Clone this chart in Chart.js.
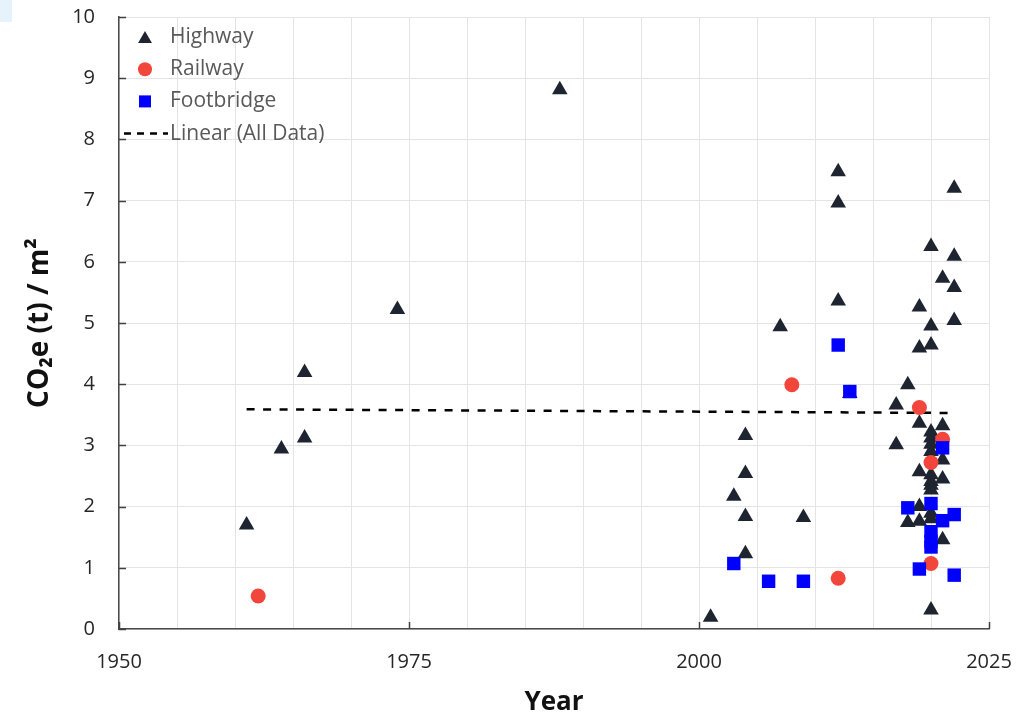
<!DOCTYPE html>
<html>
<head>
<meta charset="utf-8">
<script src="https://cdn.jsdelivr.net/npm/chart.js@4.4.1/dist/chart.umd.min.js"></script>
<style>
  html, body { margin: 0; padding: 0; background: #ffffff; }
  #wrap { position: relative; width: 1020px; height: 721px; }
  #corner { position: absolute; left: 0; top: 0; width: 12px; height: 22px; background: #e6f3fb; }
  canvas { position: absolute; left: 0; top: 0; }
</style>
</head>
<body>
<div id="wrap">
  <canvas id="c" width="1020" height="721"></canvas>
  <div id="corner"></div>
</div>
<script>
// Embodied carbon per deck area, by year of construction
const highwayYears  = [1961, 1964, 1966, 1966, 1974, 1988, 2001, 2003, 2004, 2004, 2004, 2004, 2007, 2009,
                       2012, 2012, 2012, 2013, 2017, 2017, 2018, 2018, 2019, 2019, 2019, 2019, 2019, 2019,
                       2020, 2020, 2020, 2020, 2020, 2020, 2020, 2020, 2020, 2020, 2020, 2020, 2020, 2020,
                       2021, 2021, 2021, 2021, 2021, 2022, 2022, 2022, 2022];
const highwayValues = [1.70, 2.94, 3.12, 4.19, 5.22, 8.81, 0.19, 2.17, 3.16, 2.54, 1.84, 1.23, 4.94, 1.82,
                       7.47, 6.96, 5.36, 3.85, 3.66, 3.01, 3.99, 1.74, 5.26, 4.59, 3.36, 2.57, 2.00, 1.76,
                       6.25, 4.95, 4.64, 3.22, 3.12, 3.02, 2.90, 2.52, 2.41, 2.35, 2.27, 1.89, 1.80, 0.31,
                       5.73, 3.32, 2.76, 2.45, 1.46, 7.20, 6.09, 5.58, 5.04];

const railwayYears  = [1962, 2008, 2012, 2019, 2020, 2020, 2021];
const railwayValues = [0.54, 3.99, 0.83, 3.62, 2.72, 1.07, 3.10];

const footbridgeYears  = [2003, 2006, 2009, 2012, 2013, 2018, 2019, 2020, 2020, 2020, 2020, 2021, 2021, 2022, 2022];
const footbridgeValues = [1.07, 0.78, 0.78, 4.64, 3.88, 1.98, 0.98, 2.05, 1.59, 1.43, 1.34, 2.96, 1.77, 1.87, 0.88];

// Linear trend over all data (end points)
const trendYears  = [1961, 2022];
const trendValues = [3.59, 3.53];

const xTickLabels = [1950, 1975, 2000, 2025];
const yTickLabels = [0, 1, 2, 3, 4, 5, 6, 7, 8, 9, 10];

const seriesNames = ['Highway', 'Railway', 'Footbridge', 'Linear (All Data)'];

const toPoints = (xs, ys) => xs.map((x, i) => ({ x: x, y: ys[i] }));

const FONT = "'Open Sans', 'Noto Sans', sans-serif";
const C_HIGHWAY = '#1e2430';
const C_RAIL = '#f2463d';
const C_FOOT = '#0000ff';

// Legend drawn inside the plot area, top-left
const insideLegend = {
  id: 'insideLegend',
  afterDraw(chart) {
    const ctx = chart.ctx;
    const rows = [
      { style: 'triangle', color: C_HIGHWAY, r: 8 },
      { style: 'circle', color: C_RAIL, r: 7 },
      { style: 'rect', color: C_FOOT, r: 8.5 },
      { style: 'dash' }
    ];
    const x0 = 145, textX = 170, y0 = 37, dy = 32.2;
    ctx.save();
    rows.forEach((row, i) => {
      const y = y0 + i * dy;
      if (row.style === 'dash') {
        ctx.strokeStyle = '#000';
        ctx.lineWidth = 2.5;
        ctx.setLineDash([7, 6]);
        ctx.beginPath();
        ctx.moveTo(124, y);
        ctx.lineTo(168, y);
        ctx.stroke();
        ctx.setLineDash([]);
      } else {
        ctx.fillStyle = row.color;
        ctx.strokeStyle = row.color;
        Chart.helpers.drawPoint(ctx, { pointStyle: row.style, radius: row.r, borderWidth: 0, rotation: 0 }, x0, y + (row.style === 'triangle' ? 2 : 0));
      }
      ctx.fillStyle = '#595959';
      ctx.font = '21px ' + FONT;
      ctx.textBaseline = 'middle';
      ctx.textAlign = 'left';
      ctx.fillText(seriesNames[i], textX, y);
    });
    ctx.restore();
  }
};

// Short inward tick marks at the labelled values
const innerTicks = {
  id: 'innerTicks',
  beforeDatasetsDraw(chart) {
    const ctx = chart.ctx;
    const xs = chart.scales.x, ys = chart.scales.y;
    const area = chart.chartArea;
    ctx.save();
    ctx.strokeStyle = '#404040';
    ctx.lineWidth = 1.5;
    ctx.beginPath();
    yTickLabels.forEach(v => {
      const py = Math.round(ys.getPixelForValue(v)) + 0.5;
      ctx.moveTo(area.left, py);
      ctx.lineTo(area.left + 7, py);
    });
    xTickLabels.forEach(v => {
      const px = Math.round(xs.getPixelForValue(v)) + 0.5;
      ctx.moveTo(px, area.bottom);
      ctx.lineTo(px, area.bottom - 7);
    });
    ctx.stroke();
    ctx.restore();
  }
};

// Fixed axis box sizes; label overhang is covered by the layout padding
function fixBox(size, key) {
  return function (s) {
    s[key] = size;
    s.paddingTop = 0; s.paddingBottom = 0; s.paddingLeft = 0; s.paddingRight = 0;
  };
}

new Chart(document.getElementById('c'), {
  type: 'scatter',
  data: {
    datasets: [
      {
        label: seriesNames[0],
        data: toPoints(highwayYears, highwayValues),
        pointStyle: 'triangle',
        pointRadius: 9,
        pointHoverRadius: 9,
        backgroundColor: C_HIGHWAY,
        borderColor: C_HIGHWAY,
        pointBorderWidth: 0,
        order: 3
      },
      {
        label: seriesNames[1],
        data: toPoints(railwayYears, railwayValues),
        pointStyle: 'circle',
        pointRadius: 7.5,
        pointHoverRadius: 7.5,
        backgroundColor: C_RAIL,
        borderColor: C_RAIL,
        pointBorderWidth: 0,
        order: 2
      },
      {
        label: seriesNames[2],
        data: toPoints(footbridgeYears, footbridgeValues),
        pointStyle: 'rect',
        pointRadius: 9.5,
        pointHoverRadius: 9.5,
        backgroundColor: C_FOOT,
        borderColor: C_FOOT,
        pointBorderWidth: 0,
        order: 1
      },
      {
        type: 'line',
        label: seriesNames[3],
        data: toPoints(trendYears, trendValues),
        borderColor: '#000000',
        borderWidth: 2.5,
        borderDash: [8, 8.5],
        pointRadius: 0,
        fill: false,
        order: 4
      }
    ]
  },
  options: {
    responsive: false,
    animation: false,
    events: [],
    layout: { padding: { left: 0, right: 31, top: 17, bottom: 0 } },
    plugins: {
      legend: { display: false },
      tooltip: { enabled: false }
    },
    scales: {
      x: {
        type: 'linear',
        min: 1950,
        max: 2025,
        afterFit: fixBox(92, 'height'),
        ticks: {
          stepSize: 5,
          autoSkip: false,
          maxRotation: 0,
          padding: 21,
          color: '#262626',
          font: { family: FONT, size: 20 },
          callback: v => (xTickLabels.includes(v) ? String(v) : '')
        },
        grid: { color: '#e4e4e4', lineWidth: 1, drawTicks: false },
        border: { color: '#4a4a4a', width: 1.5 },
        title: {
          display: true,
          text: 'Year',
          color: '#111111',
          font: { family: FONT, size: 26, weight: 'bold' },
          padding: { top: 0, bottom: 3 }
        }
      },
      y: {
        type: 'linear',
        min: 0,
        max: 10,
        afterFit: fixBox(119, 'width'),
        ticks: {
          stepSize: 1,
          padding: 24,
          color: '#262626',
          font: { family: FONT, size: 20 },
          callback: v => (yTickLabels.includes(v) ? String(v) : '')
        },
        grid: { color: '#e4e4e4', lineWidth: 1, drawTicks: false },
        border: { color: '#4a4a4a', width: 1.5 },
        title: {
          display: true,
          text: 'CO\u2082e (t) / m\u00B2',
          color: '#111111',
          font: { family: FONT, size: 28, weight: 'bold' },
          padding: { top: 23, bottom: 0 }
        }
      }
    }
  },
  plugins: [innerTicks, insideLegend]
});
</script>
</body>
</html>
